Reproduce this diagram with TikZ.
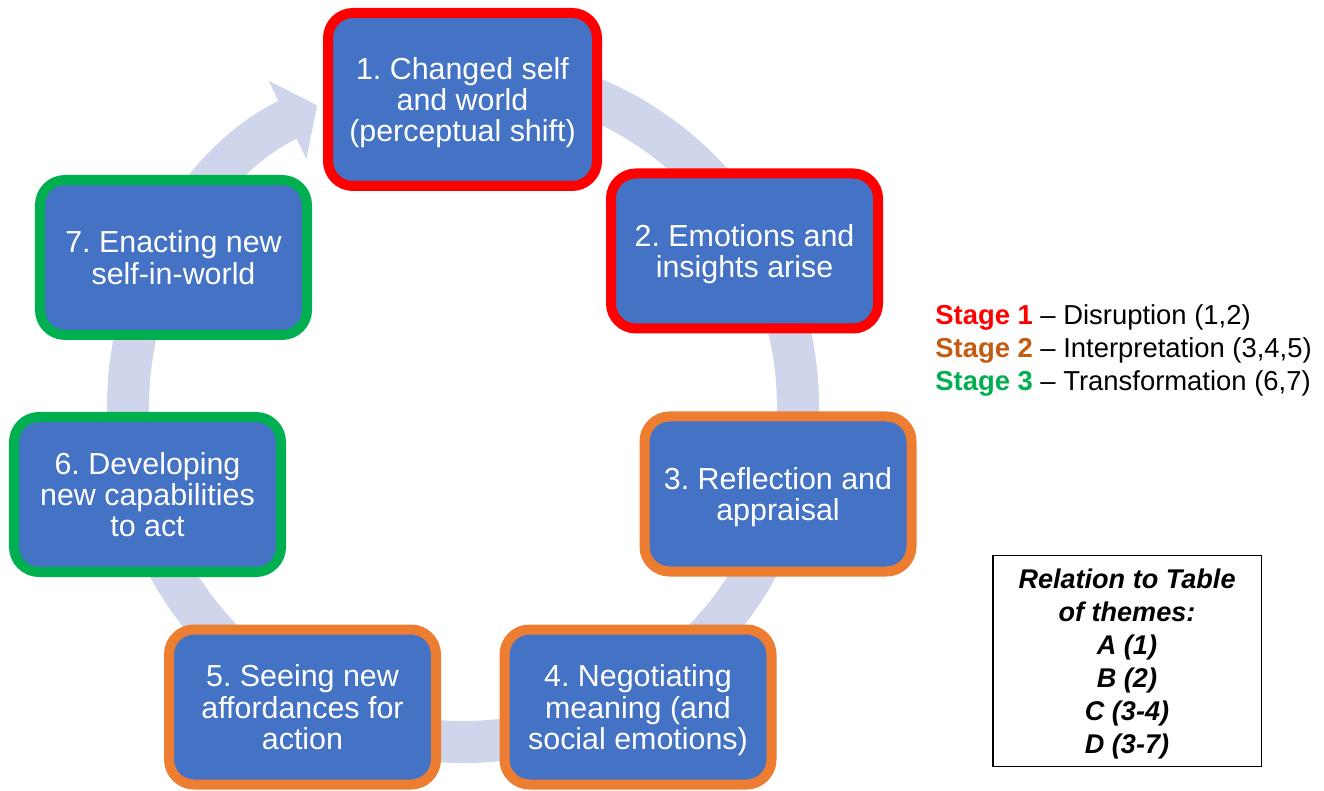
\documentclass[tikz,border=0pt]{standalone}
\usepackage{fontspec}
\setmainfont{Liberation Sans}
\usepackage{xcolor}
\usetikzlibrary{arrows.meta}
\frenchspacing
\definecolor{blkfill}{HTML}{4472C4}
\definecolor{stred}{HTML}{FF0000}
\definecolor{storg}{HTML}{ED7D31}
\definecolor{storgtxt}{HTML}{C55A11}
\definecolor{stgrn}{HTML}{00B050}
\definecolor{ringc}{HTML}{CFD5EA}

\begin{document}
\begin{tikzpicture}[x=0.2mm, y=-0.2mm,
  stg/.style ={draw, line width=2mm, rounded corners=5mm, fill=blkfill,
               text=white, align=center, inner sep=2pt, text depth=0pt,
               minimum width=53.4mm, minimum height=31mm,
               font=\fontsize{17.3}{17.9}\selectfont},
  st1/.style ={stg, draw=stred},
  st2/.style ={stg, draw=storg},
  st3/.style ={stg, draw=stgrn},
  rng/.style ={ringc, line width=8.4mm,
               -{Triangle[length=6.6mm,width=17mm]}},
  leg/.style ={align=left, inner sep=0pt, text depth=0pt,
               font=\fontsize{15.6}{18.8}\selectfont},
  rel/.style ={draw, line width=0.3mm, align=center, text depth=0pt,
               minimum width=53.7mm, minimum height=42.2mm,
               font=\fontsize{15.4}{18.8}\selectfont\bfseries\itshape}]

\useasboundingbox (0,0) rectangle (1324,791);

\coordinate (cen) at (463,407);
\draw[rng] (cen) ++(-90:335) arc[start angle=-90, end angle=244.2, radius=335];

\node[st1, minimum height=34.6mm, minimum width=53.8mm] (s1) at (462.5,99.5)
  {1. Changed self\\and world\\(perceptual shift)};
\node[st1] (s2) at (744.5,251) {2. Emotions and\\insights arise};
\node[st2] (s3) at (778,494) {3. Reflection and\\appraisal};
\node[st2] (s4) at (638,707) {4. Negotiating\\meaning (and\\social emotions)};
\node[st2] (s5) at (302.5,707) {5. Seeing new\\affordances for\\action};
\node[st3] (s6) at (147.5,494.5) {6. Developing\\new capabilities\\to act};
\node[st3] (s7) at (173.5,257.5) {7. Enacting new\\self-in-world};

\node[leg, anchor=west] (key) at (935,348)
  {\textbf{\color{stred}Stage 1} \textendash{} Disruption (1,2)\\
   \textbf{\color{storgtxt}Stage 2} \textendash{} Interpretation (3,4,5)\\
   \textbf{\color{stgrn}Stage 3} \textendash{} Transformation (6,7)};

\node[rel] (tab) at (1127,661)
  {Relation to Table\\of themes:\\A (1)\\B (2)\\C (3-4)\\D (3-7)};
\end{tikzpicture}
\end{document}
